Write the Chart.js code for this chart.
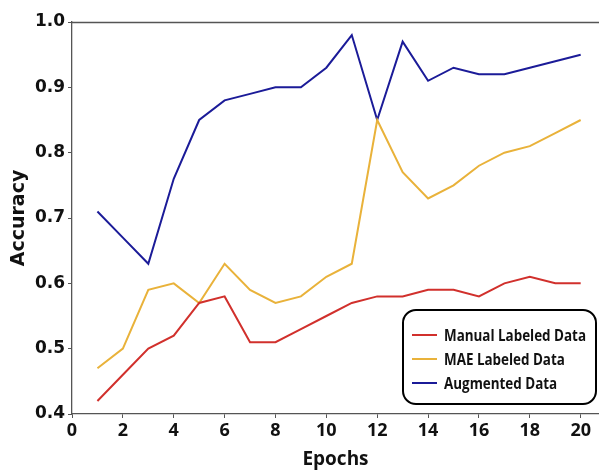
<!DOCTYPE html>
<html>
<head>
<meta charset="utf-8">
<script src="https://cdn.jsdelivr.net/npm/chart.js@4.4.1/dist/chart.umd.min.js"></script>
<style>
  html, body { margin: 0; padding: 0; background: #fff; }
  #wrap { width: 599px; height: 471px; }
</style>
</head>
<body>
<div id="wrap"><canvas id="c" width="599" height="471"></canvas></div>
<script>
const epochs = [1,2,3,4,5,6,7,8,9,10,11,12,13,14,15,16,17,18,19,20];
const manualLabeled = [0.42,0.46,0.50,0.52,0.57,0.58,0.51,0.51,0.53,0.55,0.57,0.58,0.58,0.59,0.59,0.58,0.60,0.61,0.60,0.60];
const maeLabeled    = [0.47,0.50,0.59,0.60,0.57,0.63,0.59,0.57,0.58,0.61,0.63,0.85,0.77,0.73,0.75,0.78,0.80,0.81,0.83,0.85];
const augmented     = [0.71,0.67,0.63,0.76,0.85,0.88,0.89,0.90,0.90,0.93,0.98,0.85,0.97,0.91,0.93,0.92,0.92,0.93,0.94,0.95];
const seriesNames = ['Manual Labeled Data','MAE Labeled Data','Augmented Data'];
const xTicks = [0,2,4,6,8,10,12,14,16,18,20];
const yTicks = [0.4,0.5,0.6,0.7,0.8,0.9,1.0];

const colors = ['#d1302c','#e9b23a','#1b1b98'];
const toPts = arr => arr.map((v,i)=>({x: epochs[i], y: v}));

const frameColor = '#555';

const topSpine = {
  id: 'topSpine',
  afterDraw(chart) {
    const {ctx, chartArea: a} = chart;
    ctx.save();
    ctx.strokeStyle = frameColor;
    ctx.lineWidth = 1.3;
    ctx.beginPath();
    ctx.moveTo(a.left, a.top + 0.5);
    ctx.lineTo(a.right, a.top + 0.5);
    ctx.stroke();
    ctx.restore();
  }
};

const boxLegend = {
  id: 'boxLegend',
  afterDraw(chart) {
    const {ctx} = chart;
    const x = 403, y = 310, w = 193, h = 94, r = 13;
    ctx.save();
    ctx.beginPath();
    ctx.roundRect(x, y, w, h, r);
    ctx.fillStyle = '#fff';
    ctx.fill();
    ctx.lineWidth = 2;
    ctx.strokeStyle = '#000';
    ctx.stroke();
    ctx.font = 'bold 16px "Open Sans"';
    ctx.textBaseline = 'middle';
    ctx.textAlign = 'left';
    const rows = [335, 359, 383];
    const sx = 142 / ctx.measureText(chart.data.datasets[0].label).width;
    chart.data.datasets.forEach((ds, i) => {
      ctx.strokeStyle = ds.borderColor;
      ctx.lineWidth = 2;
      ctx.beginPath();
      ctx.moveTo(412, rows[i]);
      ctx.lineTo(437, rows[i]);
      ctx.stroke();
      ctx.fillStyle = '#111';
      const tw = ctx.measureText(ds.label).width;
      ctx.fillText(ds.label, 444, rows[i] + 1, tw * sx);
    });
    ctx.restore();
  }
};

new Chart(document.getElementById('c'), {
  type: 'line',
  data: {
    datasets: [
      {label: seriesNames[0], data: toPts(manualLabeled), borderColor: colors[0]},
      {label: seriesNames[1], data: toPts(maeLabeled), borderColor: colors[1]},
      {label: seriesNames[2], data: toPts(augmented), borderColor: colors[2]}
    ].map(d => Object.assign(d, {borderWidth: 2, pointRadius: 0, tension: 0, fill: false}))
  },
  options: {
    responsive: false,
    animation: false,
    devicePixelRatio: 1,
    layout: {padding: {top: 22, right: 0, left: 0, bottom: 0}},
    plugins: {legend: {display: false}, tooltip: {enabled: false}},
    scales: {
      x: {
        type: 'linear',
        min: 0, max: 20.72,
        afterBuildTicks: s => { s.ticks = xTicks.map(v => ({value: v})); },
        afterFit: s => { s.height = 57; },
        grid: {drawOnChartArea: false, drawTicks: true, tickLength: 4, color: frameColor},
        border: {display: true, color: frameColor, width: 1.3},
        ticks: {color: '#111', padding: 2, font: {family: 'Open Sans', weight: 'bold', size: 18}, maxRotation: 0, autoSkip: false},
        title: {display: true, text: 'Epochs', color: '#111', font: {family: 'Open Sans', weight: 'bold', size: 19}, padding: {top: 0, bottom: 0}}
      },
      y: {
        min: 0.4, max: 1.0,
        afterBuildTicks: s => { s.ticks = yTicks.map(v => ({value: v})); },
        afterFit: s => { s.width = 72; },
        grid: {drawOnChartArea: false, drawTicks: true, tickLength: 4, color: frameColor},
        border: {display: true, color: frameColor, width: 1.3},
        ticks: {color: '#111', padding: 3, font: {family: 'DejaVu Sans', weight: 'bold', size: 17}, callback: v => v.toFixed(1)},
        title: {display: true, text: 'Accuracy', color: '#111', font: {family: 'DejaVu Sans', weight: 'bold', size: 19}, padding: {top: 8, bottom: 0}}
      }
    }
  },
  plugins: [topSpine, boxLegend]
});
</script>
</body>
</html>
